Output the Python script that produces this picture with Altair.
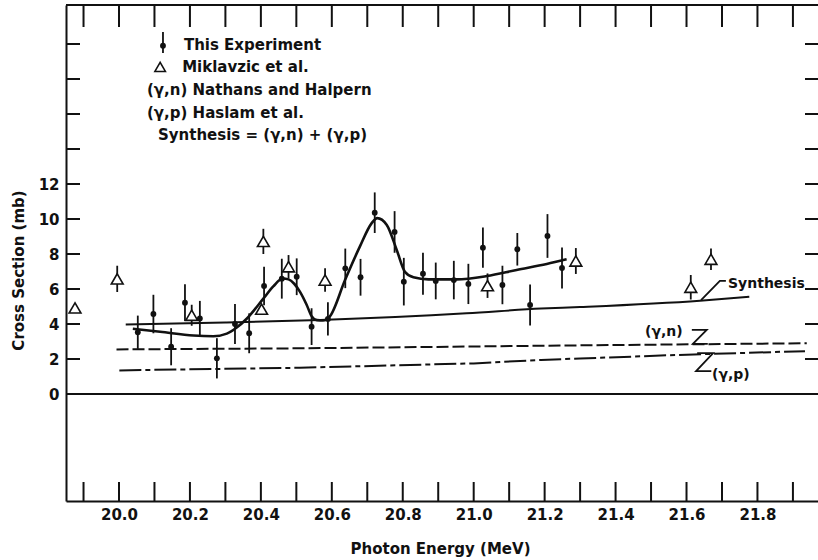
import altair as alt
import pandas as pd

# ---------------------------------------------------------------- data
# This experiment: photon energy (MeV), cross section (mb), error (mb)
exp_energy = [20.053, 20.097, 20.147, 20.186, 20.228, 20.276, 20.327, 20.367,
              20.409, 20.459, 20.501, 20.543, 20.589, 20.638, 20.681, 20.721,
              20.777, 20.803, 20.857, 20.893, 20.944, 20.985, 21.026, 21.081,
              21.123, 21.159, 21.208, 21.249]
exp_sigma = [3.53, 4.57, 2.70, 5.22, 4.32, 2.04, 4.00, 3.47,
             6.17, 6.59, 6.70, 3.85, 4.29, 7.18, 6.67, 10.36,
             9.26, 6.42, 6.87, 6.46, 6.51, 6.29, 8.36, 6.23,
             8.27, 5.09, 9.03, 7.20]
exp_err = [0.95, 1.10, 1.06, 1.05, 1.00, 1.15, 1.14, 1.14,
           1.10, 1.14, 1.05, 1.05, 0.95, 1.13, 1.05, 1.16,
           1.19, 1.36, 1.20, 1.05, 1.10, 1.15, 1.15, 1.10,
           0.93, 1.17, 1.25, 1.17]

# Miklavzic et al.
mik_energy = [19.876, 19.995, 20.205, 20.402, 20.407, 20.478, 20.581,
              21.039, 21.288, 21.612, 21.669]
mik_sigma = [4.92, 6.58, 4.50, 4.85, 8.72, 7.27, 6.51, 6.19, 7.60, 6.10, 7.70]
mik_err = [0.0, 0.75, 0.60, 0.0, 0.72, 0.67, 0.67, 0.70, 0.74, 0.70, 0.62]

# Smooth curve drawn through this experiment
fit_energy = [20.039, 20.116, 20.21, 20.266, 20.304, 20.332, 20.36, 20.407,
              20.435, 20.462, 20.478, 20.494, 20.51, 20.529, 20.543, 20.558,
              20.575, 20.595, 20.637, 20.679, 20.712, 20.728, 20.755, 20.783,
              20.806, 20.83, 20.872, 20.952, 21.037, 21.121, 21.206, 21.262]
fit_sigma = [3.73, 3.56, 3.34, 3.30, 3.45, 3.80, 4.30, 5.45,
             6.15, 6.60, 6.55, 6.30, 5.85, 5.10, 4.45, 4.22,
             4.20, 4.45, 6.50, 8.42, 9.75, 10.05, 9.66, 8.23,
             6.99, 6.67, 6.55, 6.55, 6.74, 7.09, 7.43, 7.70]

# Synthesis = (γ,n) + (γ,p)
syn_energy = [20.019, 20.30, 20.567, 20.98, 21.19, 21.30, 21.638, 21.777]
syn_sigma = [3.97, 4.08, 4.23, 4.61, 4.88, 4.97, 5.33, 5.56]

# (γ,n) Nathans and Halpern
gn_energy = [19.993, 20.51, 21.30, 21.939]
gn_sigma = [2.55, 2.61, 2.78, 2.90]

# (γ,p) Haslam et al.
gp_energy = [20.001, 20.51, 21.00, 21.19, 21.30, 21.60, 21.934]
gp_sigma = [1.35, 1.50, 1.75, 1.95, 2.03, 2.25, 2.45]

# axis ticks and labels
x_tick_values = [19.9, 20.0, 20.1, 20.2, 20.3, 20.4, 20.5, 20.6, 20.7, 20.8,
                 20.9, 21.0, 21.1, 21.2, 21.3, 21.4, 21.5, 21.6, 21.7, 21.8, 21.9]
x_label_values = [20.0, 20.2, 20.4, 20.6, 20.8, 21.0, 21.2, 21.4, 21.6, 21.8]
y_tick_values = [2, 4, 6, 8, 10, 12, 14, 16, 18, 20]
y_label_values = [0, 2, 4, 6, 8, 10, 12]

# key text (energy, cross section anchor)
key_text = ["This Experiment", "Miklavzic  et  al.", "(γ,n) Nathans and Halpern",
            "(γ,p) Haslam et  al.", "Synthesis = (γ,n) + (γ,p)"]
key_x = [20.183, 20.178, 20.079, 20.079, 20.110]
key_y = [19.94, 18.69, 17.37, 16.06, 14.80]

# curve labels
curve_text = ["Synthesis", "(γ,n)", "(γ,p)"]
curve_x = [21.717, 21.483, 21.672]
curve_y = [6.29, 3.54, 1.09]

# leader strokes pointing at the curves
lead_group = ["s", "s", "s", "n", "n", "n", "n", "p", "p", "p", "p"]
lead_order = [0, 1, 2, 0, 1, 2, 3, 0, 1, 2, 3]
lead_x = [21.641, 21.694, 21.711, 21.615, 21.657, 21.618, 21.660,
          21.630, 21.675, 21.627, 21.670]
lead_y = [5.37, 6.46, 6.46, 3.66, 3.66, 2.86, 2.86, 2.34, 2.34, 1.31, 1.31]

# ---------------------------------------------------------------- layout
W, H = 752, 496
FONT = "DejaVu Sans"
WEIGHT = "bold"
INK = "#111111"
X_DOMAIN = [19.8506, 21.9707]
Y_DOMAIN = [-6.114, 22.229]

xs = alt.Scale(domain=X_DOMAIN, nice=False, zero=False)
ys = alt.Scale(domain=Y_DOMAIN, nice=False, zero=False)

x_axis = alt.Axis(values=x_label_values, format=".1f", ticks=False, tickSize=0,
                  grid=False, domainColor=INK, domainWidth=2,
                  labelFont=FONT, labelFontSize=15, labelFontWeight=WEIGHT,
                  labelColor=INK, labelPadding=6, labelFlush=False,
                  labelOverlap=False,
                  title="Photon Energy (MeV)", titleFont=FONT, titleFontSize=15,
                  titleFontWeight=WEIGHT, titleColor=INK,
                  titleX=374, titleY=47, titleBaseline="middle",
                  titleAlign="center")
y_axis = alt.Axis(values=y_label_values, format="d", ticks=False, tickSize=0,
                  grid=False, domainColor=INK, domainWidth=2,
                  labelFont=FONT, labelFontSize=15, labelFontWeight=WEIGHT,
                  labelColor=INK, labelPadding=7, labelFlush=False,
                  labelOverlap=False,
                  title="Cross Section (mb)", titleFont=FONT, titleFontSize=15,
                  titleFontWeight=WEIGHT, titleColor=INK,
                  titleX=-48, titleY=265, titleAngle=270,
                  titleBaseline="middle", titleAlign="center")


def X(field):
    return alt.X(field, type="quantitative", scale=xs, axis=x_axis)


def Y(field):
    return alt.Y(field, type="quantitative", scale=ys, axis=y_axis)


exp_df = pd.DataFrame({"E": exp_energy, "s": exp_sigma, "err": exp_err})
exp_df["lo"] = exp_df["s"] - exp_df["err"]
exp_df["hi"] = exp_df["s"] + exp_df["err"]

mik_df = pd.DataFrame({"E": mik_energy, "s": mik_sigma, "err": mik_err})
mik_df["lo"] = mik_df["s"] - mik_df["err"]
mik_df["hi"] = mik_df["s"] + mik_df["err"]

fit_df = pd.DataFrame({"E": fit_energy, "s": fit_sigma})
syn_df = pd.DataFrame({"E": syn_energy, "s": syn_sigma})
gn_df = pd.DataFrame({"E": gn_energy, "s": gn_sigma})
gp_df = pd.DataFrame({"E": gp_energy, "s": gp_sigma})

xt_df = pd.DataFrame({"E": x_tick_values})
yt_df = pd.DataFrame({"s": y_tick_values})

key_df = pd.DataFrame({"E": key_x, "s": key_y, "t": key_text})
curve_df = pd.DataFrame({"E": curve_x, "s": curve_y, "t": curve_text})
lead_df = pd.DataFrame({"E": lead_x, "s": lead_y, "g": lead_group, "o": lead_order})

# key symbols: error bar with dot, open triangle
key_bar_df = pd.DataFrame({"E": [20.124], "lo": [19.49], "hi": [20.69], "s": [19.90]})
key_tri_df = pd.DataFrame({"E": [20.116], "s": [18.69]})

# ---------------------------------------------------------------- layers
zero_line = alt.Chart(pd.DataFrame({"s": [0]})).mark_rule(
    color=INK, strokeWidth=2).encode(
    y=Y("s"), x=alt.value(0), x2=alt.value(W))

top_border = alt.Chart(pd.DataFrame({"s": [0]})).mark_rule(
    color=INK, strokeWidth=2).encode(
    y=alt.value(0), x=alt.value(0), x2=alt.value(W))

bottom_ticks = alt.Chart(xt_df).mark_rule(color=INK, strokeWidth=2).encode(
    x=X("E"), y=alt.value(H), y2=alt.value(H - 19))
top_ticks = alt.Chart(xt_df).mark_rule(color=INK, strokeWidth=2).encode(
    x=X("E"), y=alt.value(0), y2=alt.value(22))
left_ticks = alt.Chart(yt_df).mark_rule(color=INK, strokeWidth=2).encode(
    y=Y("s"), x=alt.value(0), x2=alt.value(14))
right_ticks = alt.Chart(yt_df).mark_rule(color=INK, strokeWidth=2).encode(
    y=Y("s"), x=alt.value(W - 13), x2=alt.value(W))

gn_line = alt.Chart(gn_df).mark_line(
    color=INK, strokeWidth=2, strokeDash=[12, 4]).encode(x=X("E"), y=Y("s"))
gp_line = alt.Chart(gp_df).mark_line(
    color=INK, strokeWidth=2, strokeDash=[22, 4, 5, 4]).encode(x=X("E"), y=Y("s"))
syn_line = alt.Chart(syn_df).mark_line(
    color=INK, strokeWidth=2, interpolate="monotone").encode(x=X("E"), y=Y("s"))
fit_line = alt.Chart(fit_df).mark_line(
    color=INK, strokeWidth=2.6, interpolate="monotone").encode(x=X("E"), y=Y("s"))

mik_bars = alt.Chart(mik_df).mark_rule(color=INK, strokeWidth=1.8).encode(
    x=X("E"), y=Y("lo"), y2="hi")
mik_pts = alt.Chart(mik_df).mark_point(
    shape="triangle-up", size=140, filled=True, fill="white",
    stroke=INK, strokeWidth=1.6, opacity=1).encode(x=X("E"), y=Y("s"))

exp_bars = alt.Chart(exp_df).mark_rule(color=INK, strokeWidth=1.8).encode(
    x=X("E"), y=Y("lo"), y2="hi")
exp_pts = alt.Chart(exp_df).mark_circle(
    size=34, color=INK, opacity=1).encode(x=X("E"), y=Y("s"))

key_bar = alt.Chart(key_bar_df).mark_rule(color=INK, strokeWidth=1.8).encode(
    x=X("E"), y=Y("lo"), y2="hi")
key_dot = alt.Chart(key_bar_df).mark_circle(
    size=34, color=INK, opacity=1).encode(x=X("E"), y=Y("s"))
key_tri = alt.Chart(key_tri_df).mark_point(
    shape="triangle-up", size=110, filled=True, fill="white",
    stroke=INK, strokeWidth=1.6, opacity=1).encode(x=X("E"), y=Y("s"))
key_labels = alt.Chart(key_df).mark_text(
    align="left", baseline="middle", font=FONT, fontSize=15,
    fontWeight=WEIGHT, color=INK).encode(
    x=X("E"), y=Y("s"), text="t:N")

curve_labels = alt.Chart(curve_df).mark_text(
    align="left", baseline="middle", font=FONT, fontSize=14,
    fontWeight=WEIGHT, color=INK).encode(
    x=X("E"), y=Y("s"), text="t:N")
leaders = alt.Chart(lead_df).mark_line(color=INK, strokeWidth=1.8).encode(
    x=X("E"), y=Y("s"), detail="g:N", order="o:Q")

chart = alt.layer(
    zero_line, top_border, bottom_ticks, top_ticks, left_ticks, right_ticks,
    gn_line, gp_line, syn_line, fit_line,
    mik_bars, mik_pts, exp_bars, exp_pts,
    key_bar, key_dot, key_tri, key_labels,
    curve_labels, leaders,
).properties(
    width=W, height=H,
    padding={"left": 66, "top": 5, "right": 0, "bottom": 59},
    autosize=alt.AutoSizeParams(type="none"),
    background="white",
).configure_view(stroke=None)

chart.save("out.html", embed_options={"renderer": "svg", "actions": False})
